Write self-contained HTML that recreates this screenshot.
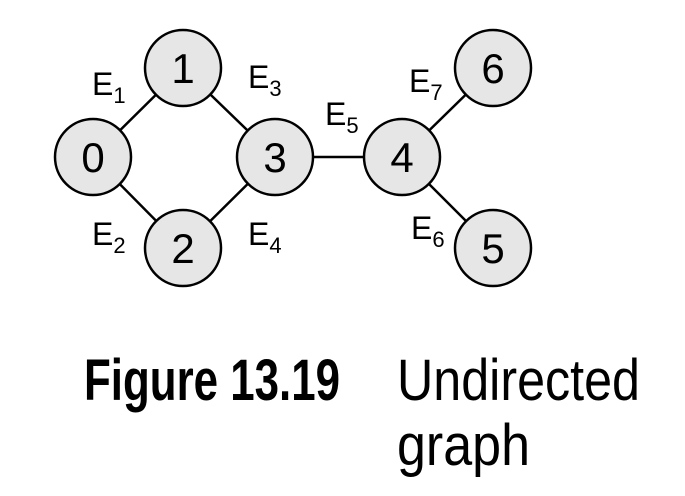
<!DOCTYPE html>
<html><head><style>html,body{margin:0;padding:0;background:#fff}svg{display:block}</style></head>
<body>
<svg width="685" height="496" viewBox="0 0 685 496" xmlns="http://www.w3.org/2000/svg" font-family="Liberation Sans, sans-serif">
<g stroke="#000" stroke-width="2.5">
<line x1="93" y1="157" x2="183" y2="68"/>
<line x1="93" y1="157" x2="183" y2="248"/>
<line x1="183" y1="68" x2="275" y2="157"/>
<line x1="183" y1="248" x2="275" y2="157"/>
<line x1="275" y1="157" x2="402" y2="157"/>
<line x1="402" y1="157" x2="493" y2="68"/>
<line x1="402" y1="157" x2="493" y2="248"/>
</g>
<g fill="#e6e6e6" stroke="#000" stroke-width="2.5">
<circle cx="93" cy="157" r="38"/>
<circle cx="183" cy="68" r="38"/>
<circle cx="183" cy="248" r="38"/>
<circle cx="275" cy="157" r="38"/>
<circle cx="402" cy="157" r="38"/>
<circle cx="493" cy="68" r="38"/>
<circle cx="493" cy="248" r="38"/>
</g>
<g font-size="42" text-anchor="middle" fill="#000">
<text x="93" y="172">0</text>
<text x="183" y="83">1</text>
<text x="183" y="263">2</text>
<text x="275" y="172">3</text>
<text x="402" y="172">4</text>
<text x="493" y="83">6</text>
<text x="493" y="263">5</text>
</g>
<g font-size="32" fill="#000">
<text x="92" y="95">E<tspan font-size="22" dy="8">1</tspan></text>
<text x="92" y="245">E<tspan font-size="22" dy="8">2</tspan></text>
<text x="248" y="88">E<tspan font-size="22" dy="8">3</tspan></text>
<text x="248" y="245">E<tspan font-size="22" dy="8">4</tspan></text>
<text x="325" y="125">E<tspan font-size="22" dy="8">5</tspan></text>
<text x="411" y="239">E<tspan font-size="22" dy="8">6</tspan></text>
<text x="409" y="92">E<tspan font-size="22" dy="8">7</tspan></text>
</g>
<g font-family="Liberation Sans Narrow, Liberation Sans, sans-serif" fill="#000">
<text x="84" y="400" font-size="58" font-weight="bold" textLength="256" lengthAdjust="spacingAndGlyphs">Figure 13.19</text>
<text x="397" y="400" font-size="58" textLength="243" lengthAdjust="spacingAndGlyphs">Undirected</text>
<text x="397" y="465" font-size="58" textLength="133" lengthAdjust="spacingAndGlyphs">graph</text>
</g>
</svg>
</body></html>
